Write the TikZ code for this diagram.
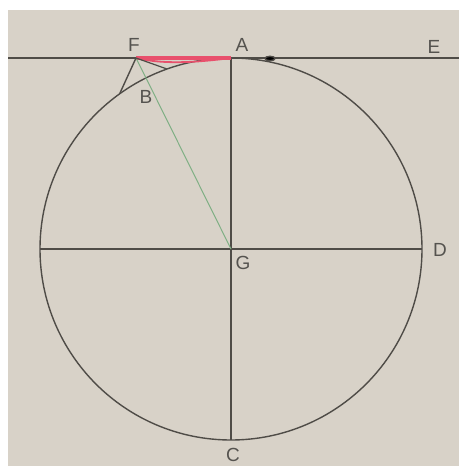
\documentclass[tikz,border=0pt]{standalone}
\usepackage{fontspec}
\setmainfont{Liberation Sans}
\usepackage[dvipsnames]{xcolor}
\definecolor{fond}{HTML}{D8D2C8}
\definecolor{trait}{HTML}{4F4C47}
\definecolor{lettre}{HTML}{55534F}
\definecolor{rouge}{HTML}{E8506C}
\definecolor{vert}{HTML}{7FAF84}

\begin{document}
\begin{tikzpicture}[x=1pt,y=-1pt,
  lettre/.style={text=lettre,font=\fontsize{19}{19}\selectfont,inner sep=0pt},
  trait/.style={draw=trait,line width=1.4pt}]
%fond
\useasboundingbox (0,0) rectangle (459,466);
\fill[fond] (8,10) rectangle (459,466);

\coordinate (G) at (231,249);
\coordinate (A) at (231,58);
\coordinate (C) at (231,440);
\coordinate (D) at (422,249);
\coordinate (Dg) at (40,249);
\coordinate (F) at (136,58);
\coordinate (B) at (146,78);
\coordinate (P) at (120,93);
\coordinate (Q) at (167,69);
\coordinate (Lg) at (8,58);
\coordinate (Ld) at (459,58);

%cercle et diametres
\draw[trait] (G) circle (191);
\draw[trait] (A) -- (C);
\draw[trait] (Dg) -- (D);

%tangente
\draw[trait] (Lg) -- (Ld);
\fill[trait] (270,58.5) ellipse (5 and 2.2);

%segment rouge
\draw[rouge,line width=3.5pt] (F) -- (A);
\draw[rouge,line width=1.8pt] (F) .. controls (165,65) and (200,62) .. (A);

\draw[vert,line width=1pt] (F) -- (B) -- (G);
\draw[trait] (F) -- (P);
\draw[trait,line width=1.2pt] (F) -- (Q);

\node[lettre] (labF) at (134,45) {F};
\node[lettre] (labA) at (242,45) {A};
\node[lettre] (labE) at (434,47) {E};
\node[lettre] (labB) at (146,97) {B};
\node[lettre] (labG) at (243,263) {G};
\node[lettre] (labD) at (440,250) {D};
\node[lettre] (labC) at (233,455) {C};

\end{tikzpicture}
\end{document}
